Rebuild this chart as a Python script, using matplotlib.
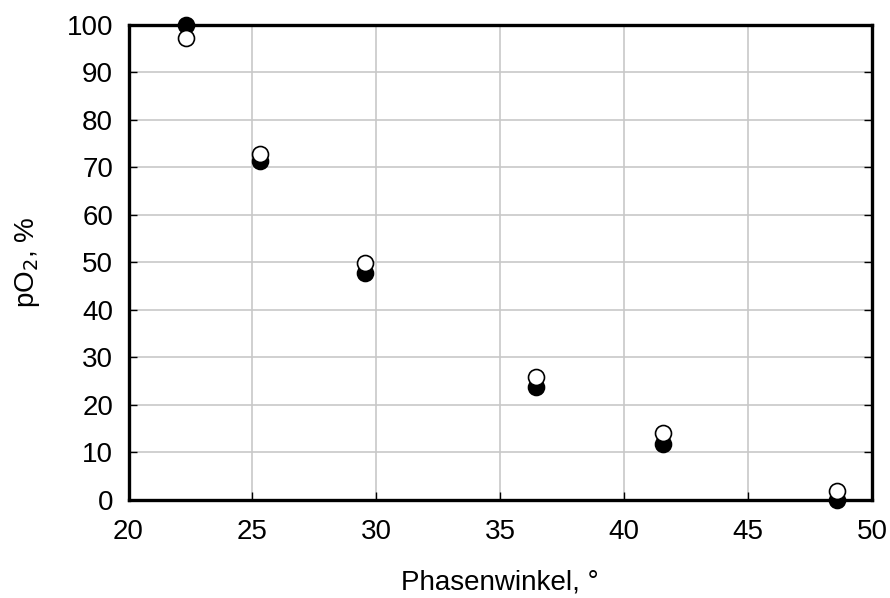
import matplotlib.pyplot as plt

# Phasenwinkel (deg) and pO2 (%) for the two measurement series
phase = [22.3, 25.3, 29.55, 36.45, 41.55, 48.6]
po2_filled = [100, 71.4, 47.7, 23.8, 11.8, 0]
po2_open = [97.1, 72.8, 49.8, 25.9, 14.0, 1.9]

x_ticks = [20, 25, 30, 35, 40, 45, 50]
y_ticks = [0, 10, 20, 30, 40, 50, 60, 70, 80, 90, 100]

plt.rcParams['font.family'] = ['Liberation Sans', 'DejaVu Sans']

fig = plt.figure(figsize=(8.9, 5.98), dpi=100)
ax = fig.add_axes([0.1444, 0.1639, 0.8354, 0.7951])

ax.plot(phase, po2_filled, 'o', color='black', markersize=11.5,
        markeredgecolor='black', markeredgewidth=1.2, zorder=3, clip_on=False)
ax.plot(phase, po2_open, 'o', color='white', markersize=11.5,
        markeredgecolor='black', markeredgewidth=1.2, zorder=4, clip_on=False)

ax.set_xlim(20, 50)
ax.set_ylim(0, 100)
ax.set_xticks(x_ticks)
ax.set_yticks(y_ticks)

ax.grid(True, color='#c8c8c8', linewidth=1.2)
ax.set_axisbelow(True)

for side in ax.spines.values():
    side.set_linewidth(2.4)
    side.set_zorder(2.5)

ax.tick_params(direction='in', length=6, width=1, labelsize=20,
               right=True, top=False)
ax.tick_params(axis='x', pad=14)
ax.tick_params(axis='y', pad=11)

ax.set_xlabel('Phasenwinkel, °', fontsize=20, labelpad=17)
ax.set_ylabel('pO$_2$, %', fontsize=20, labelpad=18)

fig.savefig('out.png', dpi=100)
